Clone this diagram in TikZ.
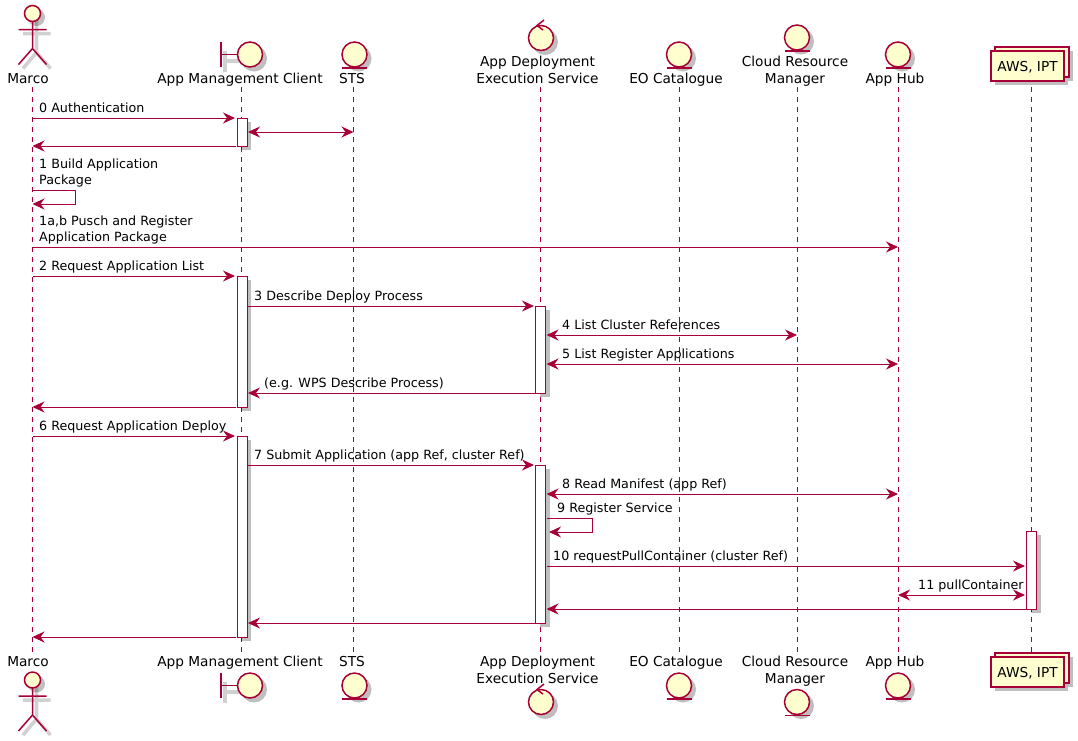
\documentclass[tikz,border=0pt]{standalone}
\usepackage{fontspec}
\setmainfont{DejaVu Sans}
\usetikzlibrary{arrows.meta}

\definecolor{borderColour}{HTML}{A80036}
\definecolor{fillColour}{HTML}{FEFECE}

\tikzset{
    lifeline/.style={draw=borderColour, line width=1pt, dash pattern=on 5pt off 5pt},
    msg/.style={draw=borderColour, line width=1pt},
    oneWay/.style={msg, -{Stealth[length=12pt,width=11pt,inset=4pt,color=borderColour]}},
    bothWays/.style={msg, {Stealth[length=12pt,width=11pt,inset=4pt,color=borderColour]}-{Stealth[length=12pt,width=11pt,inset=4pt,color=borderColour]}},
    glyph/.style={draw=borderColour, line width=1.5pt, fill=fillColour},
    shadowLine/.style={draw=black, line width=3.5pt, opacity=0.18},
    shadowFill/.style={fill=black, opacity=0.25},
    activation/.style={draw=borderColour, line width=1pt, fill=white},
    headLabel/.style={font=\fontsize{13.7}{17}\selectfont, align=center, inner sep=0pt},
    msgLabel/.style={font=\fontsize{12.7}{16}\selectfont, align=left, anchor=west, inner sep=0pt},
    pics/actorGlyph/.style={code={
        \draw[shadowLine] (4,4) -- (4,39) (-9.5,20) -- (18,20) (-9.5,55) -- (4,39) -- (18,55);
        \fill[shadowFill] (4,4) circle (8.5);
        \draw[glyph] (0,0) circle (8);
        \draw[glyph, fill=none] (0,8) -- (0,35) (-14,16) -- (14,16) (-14,51) -- (0,35) -- (14,51);
    }},
    pics/boundaryGlyph/.style={code={
        \draw[shadowLine] (-25,17) -- (-25,-4) (-25,6.5) -- (-8,6.5);
        \fill[shadowFill] (4,4) circle (13);
        \draw[glyph] (0,0) circle (12.5);
        \draw[glyph, fill=none] (-29,-12.5) -- (-29,12.5) (-29,0) -- (-12.5,0);
    }},
    pics/entityGlyph/.style={code={
        \fill[shadowFill] (4,4) circle (13);
        \draw[glyph] (0,0) circle (12.5);
        \draw[glyph, fill=none] (-12.5,13.5) -- (12.5,13.5);
    }},
    pics/controlGlyph/.style={code={
        \fill[shadowFill] (4,4) circle (13);
        \draw[glyph] (0,0) circle (12.5);
        \draw[draw=borderColour, line width=1.5pt] (3,-18) -- (-4,-12.5) -- (2,-8);
    }},
    pics/stackGlyph/.style={code={
        \fill[shadowFill] (8,0) rectangle (82,30);
        \fill[shadowFill] (4,30) rectangle (77,34);
        \draw[glyph] (4,-4) rectangle (78,26);
        \draw[glyph] (0,0) rectangle (73,30);
    }}
}

\begin{document}
\begin{tikzpicture}[x=1pt, y=-1pt]
    \useasboundingbox[fill=white] (0,0) rectangle (1078,740);

    % Draw lifelines
    \foreach \name/\x in {marco/32.5, client/241, sts/353.5, ades/540, catalogue/679, manager/797, hub/898, aws/1031} {
        \coordinate (\name Top) at (\x,87);
        \coordinate (\name Bot) at (\x,652);
        \draw[lifeline] (\name Top) -- (\name Bot);
    }

    % Draw activation bars
    \foreach \name/\x/\ya/\yb in {acta/242/118/146, actb/242/276/407, actc/242/436/637, actd/540.5/306/393, acte/540.5/465/623, actf/1031.5/531/609} {
        \fill[shadowFill] (\x-5+4,\ya+4) rectangle (\x+5+4,\yb+4);
        \draw[activation] (\x-5,\ya) rectangle (\x+5,\yb);
    }

    % Draw participants at the top
    \pic at (32.5,13.5) {actorGlyph};
    \pic at (250,54.5) {boundaryGlyph};
    \pic at (354.5,54.5) {entityGlyph};
    \pic at (541,38) {controlGlyph};
    \pic at (679,54.5) {entityGlyph};
    \pic at (797,37.5) {entityGlyph};
    \pic at (898,54.5) {entityGlyph};
    \pic at (991,51) {stackGlyph};

    % Draw participants at the bottom
    \pic at (32.5,680) {actorGlyph};
    \pic at (250,685.5) {boundaryGlyph};
    \pic at (354.5,685.5) {entityGlyph};
    \pic at (541,702) {controlGlyph};
    \pic at (679,685.5) {entityGlyph};
    \pic at (797,702) {entityGlyph};
    \pic at (898,685.5) {entityGlyph};
    \pic at (991,657) {stackGlyph};

    % Label participants
    \foreach \name/\x/\ya/\yb/\txt in {marco/28/79.6/663.3/Marco, client/240/79.6/663.3/App Management Client, sts/352/79.6/663.3/STS,
        ades/537.5/71.6/671.1/App Deployment\\Execution Service, catalogue/676/79.6/663.3/EO Catalogue,
        manager/795/71.6/671.1/Cloud Resource\\Manager, hub/895/79.6/663.3/App Hub, aws/1027.5/67.6/673.6/{AWS, IPT}} {
        \node[headLabel] (\name HeadTop) at (\x,\ya) {\strut\txt\strut};
        \node[headLabel] (\name HeadBot) at (\x,\yb) {\strut\txt\strut};
    }

    % Draw messages
    \foreach \id/\xa/\xb/\y/\kind in {
        a/32.5/235/118/oneWay, b/248/353.5/132/bothWays, c/236/32.5/146/oneWay,
        d/32.5/898/247/oneWay, e/32.5/235/276/oneWay, f/248/534/306/oneWay,
        g/546.5/797/335/bothWays, h/546.5/898/364/bothWays, i/535/248/393/oneWay,
        j/236/32.5/407/oneWay, k/32.5/235/436/oneWay, l/248/534/465/oneWay,
        m/546.5/898/494/bothWays, n/546.5/1025/566/oneWay, o/898/1025/595/bothWays,
        p/1026/546.5/609/oneWay, q/535/248/623/oneWay, r/236/32.5/637/oneWay} {
        \coordinate (\id From) at (\xa,\y);
        \coordinate (\id To) at (\xb,\y);
        \draw[\kind] (\id From) -- (\id To);
    }

    % Draw self messages
    \coordinate (selfa) at (32.5,190);
    \coordinate (selfaBack) at (32.5,204);
    \draw[oneWay] (selfa) -- (75,190) -- (75,204) -- (selfaBack);
    \coordinate (selfb) at (546.5,518);
    \coordinate (selfbBack) at (549,532);
    \draw[oneWay] (selfb) -- (592,518) -- (592,532) -- (selfbBack);

    % Label messages
    \foreach \id/\x/\y/\txt in {
        a/39/109.7/0 Authentication, s/39/173.7/1 Build Application\\Package, d/39/230.7/{1a,b Pusch and Register\\Application Package},
        e/39/267.7/2 Request Application List, f/254/297.7/3 Describe Deploy Process,
        g/562/326.7/4 List Cluster References, h/562/355.7/5 List Register Applications,
        i/264/384.7/(e.g. WPS Describe Process), k/39/427.7/6 Request Application Deploy,
        l/254/456.7/{7 Submit Application (app Ref, cluster Ref)}, m/562/485.7/8 Read Manifest (app Ref),
        t/557/509.7/9 Register Service, n/553/557.7/10 requestPullContainer (cluster Ref), o/918/586.7/11 pullContainer} {
        \node[msgLabel] (label\id) at (\x,\y) {\strut\txt\strut};
    }

\end{tikzpicture}
\end{document}
